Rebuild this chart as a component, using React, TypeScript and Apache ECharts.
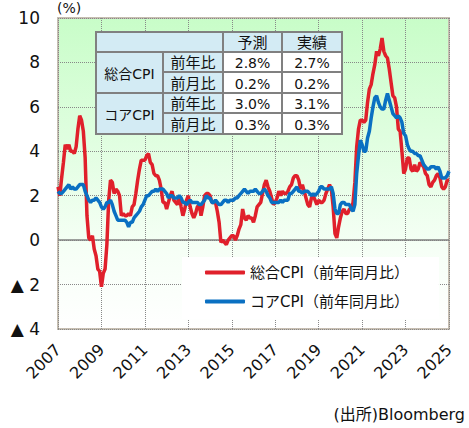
import React, { useEffect, useRef } from 'react';
import * as echarts from 'echarts';

// Monthly, Jul 2007 - Jul 2025 (YoY %)
const headlineCPI = [
  2.4, 2.0, 2.8, 3.5, 4.3, 4.1,
  4.3, 4.0, 4.0, 3.9, 4.2, 5.0, 5.6, 5.4, 4.9, 3.7, 1.1, 0.1,
  0.0, 0.2, -0.4, -0.7, -1.3, -1.4, -2.1, -1.5, -1.3, -0.2, 1.8, 2.7,
  2.6, 2.1, 2.3, 2.2, 2.0, 1.1, 1.2, 1.1, 1.1, 1.2, 1.1, 1.5,
  1.6, 2.1, 2.7, 3.2, 3.6, 3.6, 3.6, 3.8, 3.9, 3.5, 3.4, 3.0,
  2.9, 2.9, 2.7, 2.3, 1.7, 1.7, 1.4, 1.7, 2.0, 2.2, 1.8, 1.7,
  1.6, 2.0, 1.5, 1.1, 1.4, 1.8, 2.0, 1.5, 1.2, 1.0, 1.2, 1.5,
  1.6, 1.1, 1.5, 2.0, 2.1, 2.1, 2.0, 1.7, 1.7, 1.7, 1.3, 0.8,
  -0.1, 0.0, -0.1, -0.2, 0.0, 0.1, 0.2, 0.2, 0.0, 0.2, 0.5, 0.7,
  1.4, 1.0, 0.9, 1.1, 1.0, 1.0, 0.8, 1.1, 1.5, 1.6, 1.7, 2.1,
  2.5, 2.7, 2.4, 2.2, 1.9, 1.6, 1.7, 1.9, 2.2, 2.0, 2.2, 2.1,
  2.1, 2.2, 2.4, 2.5, 2.8, 2.9, 2.9, 2.7, 2.3, 2.5, 2.2, 1.9,
  1.6, 1.5, 1.9, 2.0, 1.8, 1.6, 1.8, 1.7, 1.7, 1.8, 2.1, 2.3,
  2.5, 2.3, 1.5, 0.3, 0.1, 0.6, 1.0, 1.3, 1.4, 1.2, 1.2, 1.4,
  1.4, 1.7, 2.6, 4.2, 5.0, 5.4, 5.4, 5.3, 5.4, 6.2, 6.8, 7.0,
  7.5, 7.9, 8.5, 8.3, 8.6, 9.1, 8.5, 8.3, 8.2, 7.7, 7.1, 6.5,
  6.4, 6.0, 5.0, 4.9, 4.0, 3.0, 3.2, 3.7, 3.7, 3.2, 3.1, 3.4,
  3.1, 3.2, 3.5, 3.4, 3.3, 3.0, 2.9, 2.5, 2.4, 2.6, 2.7, 2.9,
  3.0, 2.8, 2.4, 2.3, 2.4, 2.7, 2.7,
];

const coreCPI = [
  2.2, 2.1, 2.1, 2.2, 2.3, 2.4,
  2.5, 2.3, 2.4, 2.3, 2.3, 2.4, 2.5, 2.5, 2.5, 2.2, 2.0, 1.8,
  1.7, 1.8, 1.8, 1.9, 1.8, 1.7, 1.5, 1.4, 1.5, 1.7, 1.7, 1.8,
  1.6, 1.3, 1.1, 0.9, 0.9, 0.9, 0.9, 0.9, 0.8, 0.6, 0.8, 0.8,
  1.0, 1.1, 1.2, 1.3, 1.5, 1.6, 1.8, 2.0, 2.0, 2.1, 2.2, 2.2,
  2.3, 2.2, 2.3, 2.3, 2.3, 2.2, 2.1, 1.9, 2.0, 2.0, 1.9, 1.9,
  1.9, 2.0, 1.9, 1.7, 1.7, 1.6, 1.7, 1.8, 1.7, 1.7, 1.7, 1.7,
  1.6, 1.6, 1.7, 1.8, 2.0, 1.9, 1.9, 1.7, 1.7, 1.8, 1.7, 1.6,
  1.6, 1.7, 1.8, 1.8, 1.7, 1.8, 1.8, 1.8, 1.9, 1.9, 2.0, 2.1,
  2.2, 2.3, 2.2, 2.1, 2.2, 2.2, 2.2, 2.3, 2.2, 2.1, 2.1, 2.2,
  2.3, 2.2, 2.0, 1.9, 1.7, 1.7, 1.7, 1.7, 1.7, 1.8, 1.7, 1.8,
  1.8, 1.8, 2.1, 2.1, 2.2, 2.3, 2.4, 2.2, 2.2, 2.1, 2.2, 2.2,
  2.2, 2.1, 2.0, 2.1, 2.0, 2.1, 2.2, 2.4, 2.4, 2.3, 2.3, 2.3,
  2.3, 2.4, 2.1, 1.4, 1.2, 1.2, 1.6, 1.7, 1.7, 1.6, 1.6, 1.6,
  1.4, 1.3, 1.6, 3.0, 3.8, 4.5, 4.3, 4.0, 4.0, 4.6, 4.9, 5.5,
  6.0, 6.4, 6.5, 6.2, 6.0, 5.9, 5.9, 6.3, 6.6, 6.3, 6.0, 5.7,
  5.6, 5.5, 5.6, 5.5, 5.3, 4.8, 4.7, 4.3, 4.1, 4.0, 4.0, 3.9,
  3.9, 3.8, 3.8, 3.6, 3.4, 3.3, 3.2, 3.2, 3.3, 3.3, 3.3, 3.2,
  3.3, 3.1, 2.8, 2.8, 2.8, 2.9, 3.1,
];

const startYear = 2007;
const startMonth = 7;
const months: string[] = [];
for (let i = 0; i < headlineCPI.length; i++) {
  const m = startMonth - 1 + i;
  const y = startYear + Math.floor(m / 12);
  const mm = (m % 12) + 1;
  months.push(`${y}-${mm < 10 ? '0' + mm : mm}`);
}

const seriesNames = ['総合CPI（前年同月比）', 'コアCPI（前年同月比）'];
const tableHeader = ['予測', '実績'];
const tableGroups = ['総合CPI', 'コアCPI'];
const tableItems = ['前年比', '前月比'];
const tableForecast = ['2.8%', '0.2%', '3.0%', '0.3%'];
const tableActual = ['2.7%', '0.2%', '3.1%', '0.3%'];

const FONT = "'DejaVu Sans', 'Noto Sans CJK JP', sans-serif";

function buildTable() {
  const cols = [96, 163, 223, 282, 342];
  const rows = [32, 52, 72, 93, 113, 134];
  const blue = '#d3ebf4';
  const stroke = '#808080';
  const els: any[] = [];
  const cell = (x0: number, y0: number, x1: number, y1: number, fill: string, text: string, size: number) => {
    els.push({
      type: 'rect',
      shape: { x: x0, y: y0, width: x1 - x0, height: y1 - y0 },
      style: { fill, stroke, lineWidth: 2 },
      z: 100,
    });
    if (text) {
      els.push({
        type: 'text',
        x: (x0 + x1) / 2,
        y: (y0 + y1) / 2 + 1,
        style: { text, fill: '#111', font: `${size}px ${FONT}`, align: 'center', verticalAlign: 'middle' },
        z: 101,
      });
    }
  };
  cell(cols[0], rows[0], cols[2], rows[1], blue, '', 15);
  cell(cols[2], rows[0], cols[3], rows[1], blue, tableHeader[0], 15);
  cell(cols[3], rows[0], cols[4], rows[1], blue, tableHeader[1], 15);
  for (let g = 0; g < 2; g++) {
    cell(cols[0], rows[1 + g * 2], cols[1], rows[3 + g * 2], blue, tableGroups[g], 14);
    for (let k = 0; k < 2; k++) {
      const r = 1 + g * 2 + k;
      cell(cols[1], rows[r], cols[2], rows[r + 1], blue, tableItems[k], 15);
      cell(cols[2], rows[r], cols[3], rows[r + 1], '#ffffff', tableForecast[g * 2 + k], 14);
      cell(cols[3], rows[r], cols[4], rows[r + 1], '#ffffff', tableActual[g * 2 + k], 14);
    }
  }
  return els;
}

export default function App() {
  const ref = useRef<HTMLDivElement>(null);
  useEffect(() => {
    if (!ref.current) return;
    const chart = echarts.init(ref.current, null, { renderer: 'svg' });
    chart.setOption({
      animation: false,
      backgroundColor: '#ffffff',
      textStyle: { fontFamily: FONT },
      grid: {
        left: 58,
        right: 20,
        top: 18,
        bottom: 99,
        show: true,
        borderColor: '#c6beb1',
        borderWidth: 2,
        backgroundColor: new echarts.graphic.LinearGradient(0, 0, 0, 1, [
          { offset: 0, color: '#c8fdc8' },
          { offset: 0.75, color: '#f6fff6' },
          { offset: 1, color: '#ffffff' },
        ]),
        z: 0,
      },
      legend: {
        data: seriesNames,
        orient: 'vertical',
        left: 182,
        top: 257,
        icon: 'roundRect',
        itemWidth: 40,
        itemHeight: 4,
        itemGap: 14,
        padding: [8, 30, 10, 23],
        backgroundColor: '#ffffff',
        textStyle: { fontSize: 15, color: '#111', fontFamily: FONT },
        selectedMode: false,
      },
      xAxis: {
        type: 'category',
        data: months,
        boundaryGap: false,
        axisLine: { show: false },
        axisTick: { show: false },
        axisLabel: {
          interval: 23,
          rotate: 45,
          fontSize: 16,
          color: '#111',
          margin: 18,
          formatter: (v: string) => v.slice(0, 4),
        },
        splitLine: {
          show: true,
          interval: 23,
          lineStyle: { type: 'dotted', color: '#888', width: 1 },
        },
      },
      yAxis: {
        type: 'value',
        min: -4,
        max: 10,
        interval: 2,
        axisLine: { show: false },
        axisTick: { show: false },
        axisLabel: {
          fontSize: 17,
          color: '#111',
          margin: 18,
          formatter: (v: number) => (v < 0 ? '▲ ' + -v : String(v)),
        },
        splitLine: { show: true, lineStyle: { type: 'dotted', color: '#888', width: 1 } },
      },
      series: [
        {
          name: seriesNames[0],
          type: 'line',
          data: headlineCPI,
          showSymbol: false,
          lineStyle: { color: '#e0202b', width: 3.5 },
          itemStyle: { color: '#e0202b' },
          z: 3,
          markLine: {
            silent: true,
            symbol: 'none',
            label: { show: false },
            lineStyle: { color: '#808080', type: 'solid', width: 1.5 },
            data: [{ yAxis: 0 }],
            z: 1,
          },
        },
        {
          name: seriesNames[1],
          type: 'line',
          data: coreCPI,
          showSymbol: false,
          lineStyle: { color: '#0a70c2', width: 3.5 },
          itemStyle: { color: '#0a70c2' },
          z: 4,
        },
      ],
      graphic: [
        ...buildTable(),
        {
          type: 'text',
          x: 57,
          y: 1,
          style: { text: '(%)', font: `14px ${FONT}`, fill: '#111', verticalAlign: 'top' },
        },
        {
          type: 'text',
          x: 465,
          y: 406,
          style: {
            text: '(出所)Bloomberg',
            font: `16px ${FONT}`,
            fill: '#111',
            align: 'right',
            verticalAlign: 'top',
          },
        },
      ],
    });
    return () => chart.dispose();
  }, []);
  return (
    <div
      ref={ref}
      style={{ position: 'absolute', left: 0, top: 0, width: 469, height: 428 }}
    />
  );
}
